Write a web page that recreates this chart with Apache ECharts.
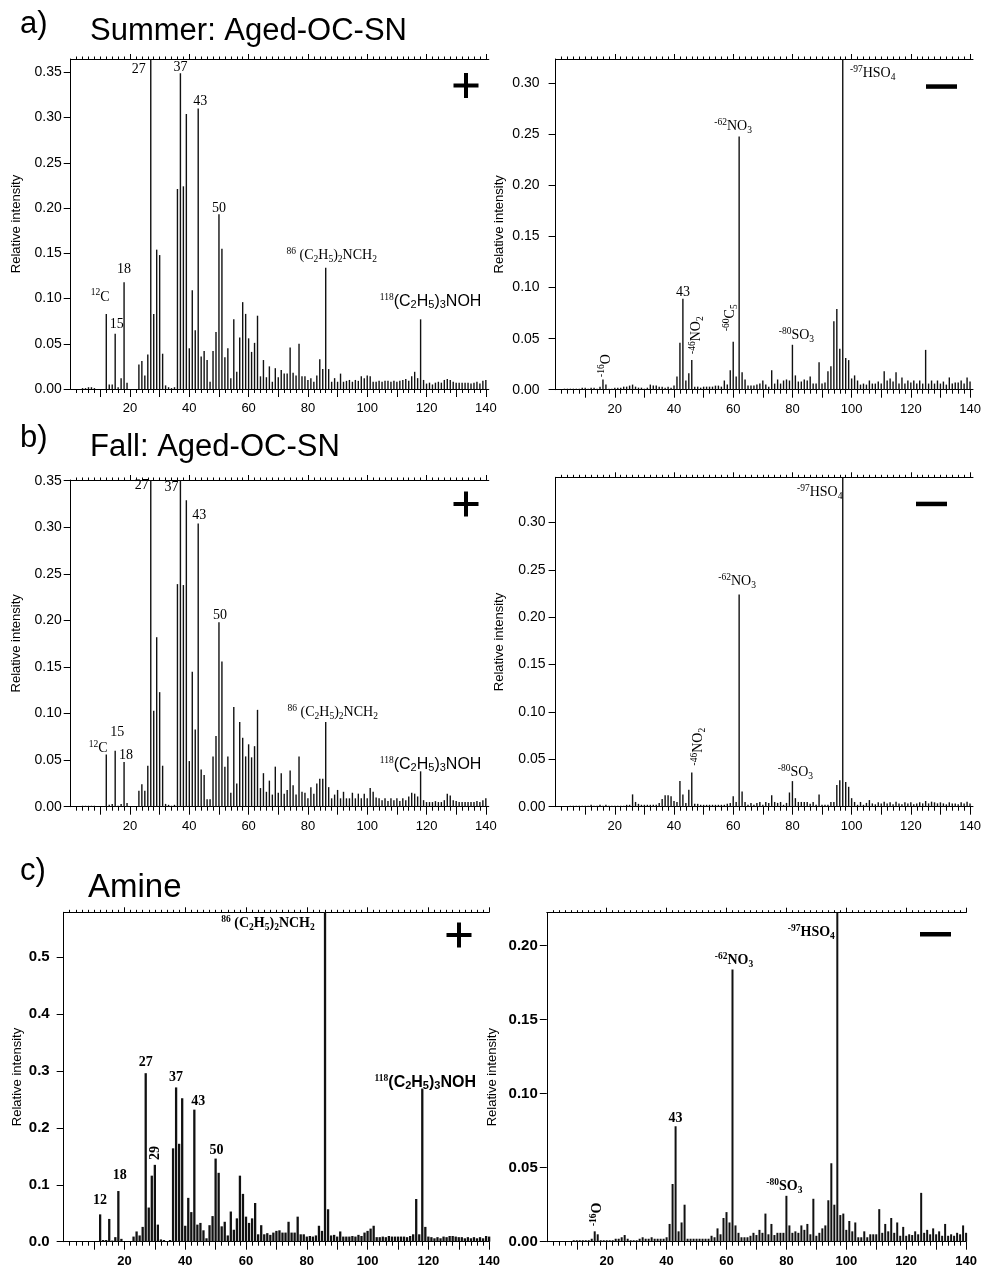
<!DOCTYPE html>
<html>
<head>
<meta charset="utf-8">
<script src="https://cdn.jsdelivr.net/npm/echarts@6/dist/echarts.min.js"></script>
<style>
  html, body { margin: 0; padding: 0; background: #fff; }
  #chart { width: 982px; height: 1270px; }
</style>
</head>
<body>
<div id="chart"></div>
<script>
// m/z 1..140
const mz = [
  1, 2, 3, 4, 5, 6, 7, 8, 9, 10, 11, 12, 13, 14, 15, 16, 17, 18, 19, 20,
  21, 22, 23, 24, 25, 26, 27, 28, 29, 30, 31, 32, 33, 34, 35, 36, 37, 38, 39, 40,
  41, 42, 43, 44, 45, 46, 47, 48, 49, 50, 51, 52, 53, 54, 55, 56, 57, 58, 59, 60,
  61, 62, 63, 64, 65, 66, 67, 68, 69, 70, 71, 72, 73, 74, 75, 76, 77, 78, 79, 80,
  81, 82, 83, 84, 85, 86, 87, 88, 89, 90, 91, 92, 93, 94, 95, 96, 97, 98, 99, 100,
  101, 102, 103, 104, 105, 106, 107, 108, 109, 110, 111, 112, 113, 114, 115, 116, 117, 118, 119, 120,
  121, 122, 123, 124, 125, 126, 127, 128, 129, 130, 131, 132, 133, 134, 135, 136, 137, 138, 139, 140
];

// a) summer, positive ions
const summerPos = [
  0, 0, 0, 0.001, 0.001, 0.002, 0.002, 0.001, 0, 0,
  0, 0.083, 0.005, 0.005, 0.061, 0.002, 0.012, 0.118, 0.007, 0,
  0, 0, 0.027, 0.031, 0.015, 0.038, 0.40, 0.083, 0.154, 0.148,
  0.039, 0.004, 0.002, 0.001, 0.002, 0.221, 0.349, 0.224, 0.304, 0.045,
  0.109, 0.065, 0.310, 0.036, 0.042, 0.032, 0.008, 0.042, 0.063, 0.193,
  0.155, 0.035, 0.045, 0.012, 0.077, 0.019, 0.057, 0.096, 0.083, 0.056,
  0.041, 0.051, 0.081, 0.014, 0.032, 0.013, 0.025, 0.008, 0.023, 0.013,
  0.021, 0.017, 0.017, 0.046, 0.018, 0.015, 0.050, 0.014, 0.014, 0.010,
  0.012, 0.008, 0.015, 0.033, 0.022, 0.134, 0.022, 0.008, 0.012, 0.008,
  0.017, 0.008, 0.009, 0.010, 0.008, 0.010, 0.009, 0.014, 0.012, 0.015,
  0.014, 0.008, 0.008, 0.009, 0.008, 0.009, 0.009, 0.008, 0.009, 0.008,
  0.009, 0.010, 0.011, 0.009, 0.014, 0.019, 0.012, 0.077, 0.010, 0.006,
  0.007, 0.005, 0.007, 0.008, 0.007, 0.010, 0.011, 0.010, 0.008, 0.007,
  0.007, 0.007, 0.007, 0.007, 0.006, 0.007, 0.008, 0.006, 0.009, 0.010
];

// a) summer, negative ions
const summerNeg = [
  0, 0, 0.001, 0.001, 0.001, 0.001, 0.001, 0.001, 0.002, 0.002,
  0.001, 0.002, 0.002, 0.001, 0.003, 0.010, 0.005, 0.001, 0.001, 0.002,
  0.002, 0.002, 0.003, 0.003, 0.004, 0.005, 0.003, 0.002, 0.002, 0.001,
  0.002, 0.005, 0.004, 0.004, 0.003, 0.003, 0.002, 0.003, 0.002, 0.004,
  0.013, 0.046, 0.089, 0.009, 0.016, 0.029, 0.003, 0.003, 0.002, 0.003,
  0.003, 0.003, 0.003, 0.004, 0.004, 0.003, 0.009, 0.005, 0.019, 0.047,
  0.013, 0.248, 0.017, 0.010, 0.004, 0.004, 0.004, 0.005, 0.006, 0.009,
  0.005, 0.003, 0.019, 0.006, 0.010, 0.006, 0.009, 0.010, 0.009, 0.044,
  0.014, 0.008, 0.008, 0.010, 0.009, 0.013, 0.006, 0.006, 0.027, 0.006,
  0.007, 0.018, 0.023, 0.067, 0.079, 0.040, 0.40, 0.031, 0.029, 0.011,
  0.014, 0.009, 0.005, 0.006, 0.005, 0.009, 0.006, 0.006, 0.008, 0.006,
  0.018, 0.009, 0.011, 0.008, 0.017, 0.006, 0.012, 0.006, 0.009, 0.007,
  0.009, 0.006, 0.009, 0.006, 0.039, 0.006, 0.009, 0.006, 0.009, 0.006,
  0.008, 0.005, 0.012, 0.006, 0.007, 0.007, 0.009, 0.006, 0.012, 0.008
];

// b) fall, positive ions
const fallPos = [
  0, 0, 0, 0.001, 0.001, 0.001, 0.001, 0.001, 0, 0,
  0, 0.056, 0.002, 0.003, 0.060, 0.001, 0.003, 0.048, 0.004, 0,
  0, 0, 0.017, 0.024, 0.017, 0.044, 0.38, 0.103, 0.182, 0.123,
  0.044, 0.003, 0.002, 0.001, 0.002, 0.239, 0.36, 0.238, 0.329, 0.049,
  0.145, 0.083, 0.304, 0.040, 0.034, 0.008, 0.008, 0.054, 0.076, 0.198,
  0.156, 0.043, 0.054, 0.015, 0.107, 0.025, 0.091, 0.074, 0.054, 0.067,
  0.053, 0.065, 0.104, 0.020, 0.036, 0.016, 0.028, 0.013, 0.043, 0.015,
  0.036, 0.014, 0.018, 0.039, 0.023, 0.013, 0.054, 0.016, 0.015, 0.009,
  0.021, 0.014, 0.025, 0.030, 0.030, 0.091, 0.021, 0.009, 0.013, 0.018,
  0.009, 0.016, 0.009, 0.009, 0.015, 0.009, 0.014, 0.009, 0.014, 0.009,
  0.020, 0.016, 0.010, 0.009, 0.007, 0.009, 0.006, 0.009, 0.007, 0.009,
  0.006, 0.009, 0.007, 0.011, 0.015, 0.014, 0.011, 0.038, 0.007, 0.005,
  0.005, 0.005, 0.006, 0.005, 0.005, 0.007, 0.014, 0.012, 0.007, 0.006,
  0.005, 0.005, 0.005, 0.005, 0.005, 0.005, 0.006, 0.005, 0.007, 0.009
];

// b) fall, negative ions
const fallNeg = [
  0, 0, 0, 0, 0.001, 0.001, 0.001, 0.001, 0.001, 0.001,
  0.001, 0.002, 0.001, 0.001, 0.002, 0.001, 0.002, 0.001, 0.001, 0.001,
  0.001, 0.001, 0.001, 0.002, 0.002, 0.013, 0.005, 0.003, 0.002, 0.002,
  0.002, 0.002, 0.002, 0.002, 0.004, 0.008, 0.012, 0.012, 0.011, 0.006,
  0.005, 0.027, 0.013, 0.004, 0.018, 0.036, 0.003, 0.003, 0.002, 0.002,
  0.002, 0.002, 0.002, 0.002, 0.002, 0.002, 0.002, 0.003, 0.004, 0.011,
  0.005, 0.224, 0.016, 0.005, 0.002, 0.004, 0.002, 0.004, 0.005, 0.002,
  0.005, 0.004, 0.012, 0.005, 0.004, 0.005, 0.002, 0.004, 0.015, 0.027,
  0.009, 0.005, 0.005, 0.005, 0.005, 0.003, 0.005, 0.002, 0.013, 0.002,
  0.002, 0.002, 0.005, 0.005, 0.023, 0.028, 0.45, 0.026, 0.021, 0.009,
  0.005, 0.002, 0.005, 0.002, 0.004, 0.007, 0.0035, 0.0025, 0.0046, 0.0035,
  0.0053, 0.0035, 0.0046, 0.0025, 0.0053, 0.0035, 0.0025, 0.0046, 0.0035, 0.0046,
  0.0025, 0.0035, 0.0046, 0.0035, 0.006, 0.0035, 0.0053, 0.0046, 0.0035, 0.0046,
  0.0035, 0.0025, 0.0046, 0.0035, 0.0035, 0.0025, 0.0046, 0.0035, 0.0053, 0.0035
];

// c) amine, positive ions
const aminePos = [
  0, 0, 0, 0, 0, 0, 0, 0, 0, 0,
  0, 0.048, 0.003, 0.003, 0.040, 0.002, 0.008, 0.089, 0.005, 0,
  0, 0, 0.009, 0.018, 0.011, 0.026, 0.296, 0.060, 0.116, 0.135,
  0.030, 0.004, 0.003, 0.001, 0.003, 0.164, 0.271, 0.172, 0.252, 0.028,
  0.077, 0.052, 0.232, 0.030, 0.033, 0.020, 0.006, 0.029, 0.045, 0.146,
  0.121, 0.027, 0.035, 0.011, 0.053, 0.021, 0.041, 0.116, 0.084, 0.044,
  0.033, 0.041, 0.068, 0.013, 0.029, 0.013, 0.015, 0.012, 0.016, 0.019,
  0.020, 0.016, 0.016, 0.035, 0.016, 0.016, 0.044, 0.013, 0.013, 0.009,
  0.010, 0.009, 0.011, 0.028, 0.019, 0.60, 0.057, 0.011, 0.012, 0.009,
  0.018, 0.009, 0.009, 0.009, 0.010, 0.009, 0.012, 0.010, 0.016, 0.019,
  0.023, 0.028, 0.008, 0.008, 0.009, 0.008, 0.010, 0.009, 0.009, 0.009,
  0.009, 0.009, 0.008, 0.010, 0.013, 0.075, 0.013, 0.269, 0.026, 0.009,
  0.008, 0.006, 0.008, 0.006, 0.009, 0.008, 0.010, 0.010, 0.009, 0.008,
  0.008, 0.006, 0.008, 0.006, 0.008, 0.006, 0.008, 0.006, 0.010, 0.009
];

// c) amine, negative ions
const amineNeg = [
  0, 0, 0, 0, 0, 0, 0, 0, 0.001, 0.001,
  0.001, 0.001, 0.001, 0.001, 0.002, 0.007, 0.005, 0.001, 0.001, 0.001,
  0.001, 0.001, 0.002, 0.002, 0.003, 0.0045, 0.002, 0.001, 0.001, 0.001,
  0.002, 0.003, 0.002, 0.002, 0.003, 0.002, 0.002, 0.002, 0.002, 0.003,
  0.012, 0.039, 0.078, 0.007, 0.013, 0.025, 0.002, 0.002, 0.002, 0.002,
  0.002, 0.002, 0.002, 0.002, 0.004, 0.003, 0.009, 0.005, 0.016, 0.020,
  0.013, 0.184, 0.011, 0.006, 0.003, 0.003, 0.003, 0.004, 0.006, 0.0045,
  0.008, 0.006, 0.019, 0.005, 0.012, 0.0045, 0.006, 0.006, 0.006, 0.031,
  0.011, 0.006, 0.007, 0.006, 0.011, 0.008, 0.012, 0.005, 0.029, 0.004,
  0.006, 0.009, 0.011, 0.028, 0.053, 0.025, 0.30, 0.018, 0.019, 0.008,
  0.014, 0.007, 0.013, 0.003, 0.003, 0.007, 0.003, 0.005, 0.005, 0.005,
  0.022, 0.006, 0.012, 0.007, 0.016, 0.006, 0.013, 0.004, 0.010, 0.004,
  0.005, 0.0045, 0.007, 0.005, 0.033, 0.006, 0.008, 0.005, 0.009, 0.005,
  0.007, 0.004, 0.012, 0.004, 0.005, 0.004, 0.006, 0.005, 0.011, 0.006
];

// tick values
const xLabelTicks = [20, 40, 60, 80, 100, 120, 140];
const xMajorTicks = [10, 20, 30, 40, 50, 60, 70, 80, 90, 100, 110, 120, 130, 140];
const xTopTicks = [20, 40, 60, 80, 100, 120, 140];
const xMinorTicks = [2, 4, 6, 8, 12, 14, 16, 18, 22, 24, 26, 28, 32, 34, 36, 38, 42, 44, 46, 48,
  52, 54, 56, 58, 62, 64, 66, 68, 72, 74, 76, 78, 82, 84, 86, 88, 92, 94, 96, 98,
  102, 104, 106, 108, 112, 114, 116, 118, 122, 124, 126, 128, 132, 134, 136, 138];
const xTopMinor = [2, 4, 6, 8, 10, 12, 14, 16, 18, 22, 24, 26, 28, 30, 32, 34, 36, 38,
  42, 44, 46, 48, 50, 52, 54, 56, 58, 62, 64, 66, 68, 70, 72, 74, 76, 78,
  82, 84, 86, 88, 90, 92, 94, 96, 98, 102, 104, 106, 108, 110, 112, 114, 116, 118,
  122, 124, 126, 128, 130, 132, 134, 136, 138];
const yTicks35 = [0, 0.05, 0.10, 0.15, 0.20, 0.25, 0.30, 0.35];
const yTicks30 = [0, 0.05, 0.10, 0.15, 0.20, 0.25, 0.30];
const yTicks05 = [0, 0.1, 0.2, 0.3, 0.4, 0.5];
const yTicks20 = [0, 0.05, 0.10, 0.15, 0.20];

// peak labels: [m/z, y (null = bar top), text, dx, dy, rotate] ; dx/dy in screen pixels
const NCH2 = '{p|86}{n| (C}{b|2}{n|H}{b|5}{n|)}{b|2}{n|NCH}{b|2}';
const NOH = '{p|118}{s|(C}{sb|2}{s|H}{sb|5}{s|)}{sb|3}{s|NOH}';
const annotSummerPos = [
  [12, null, '{p|12}{n|C}', -6, -17, 0],
  [15, null, '{n|15}', 1.5, -9, 0],
  [18, null, '{n|18}', 0, -13, 0],
  [27, 0.35, '{n|27}', -12, -3, 0],
  [37, null, '{n|37}', 0, -6, 0],
  [43, null, '{n|43}', 2, -7, 0],
  [50, null, '{n|50}', 0, -6, 0],
  [86, null, NCH2, 6, -12, 0],
  [118, null, NOH, 10, -18, 0]
];
const annotSummerNeg = [
  [16, null, '{p|-16}{n|O}', 3, -14, 90],
  [43, null, '{n|43}', 0, -7, 0],
  [46, null, '{p|-46}{n|NO}{b|2}', 5, -25, 90],
  [60, null, '{p|-60}{n|C}{b|5}', -3, -24, 90],
  [62, null, '{p|-62}{n|NO}{b|3}', -6, -10, 0],
  [97, 0.31, '{p|-97}{n|HSO}{b|4}', 30, 0, 0],
  [80, null, '{p|-80}{n|SO}{b|3}', 4, -9, 0]
];
const annotFallPos = [
  [12, null, '{p|12}{n|C}', -8, -6, 0],
  [15, null, '{n|15}', 2, -18, 0],
  [18, null, '{n|18}', 2, -7, 0],
  [27, 0.34, '{n|27}', -9, -5, 0],
  [37, 0.34, '{n|37}', -9, -3, 0],
  [43, null, '{n|43}', 1, -8.5, 0],
  [50, null, '{n|50}', 1, -7, 0],
  [86, null, NCH2, 7, -9.5, 0],
  [118, null, NOH, 10, -7, 0]
];
const annotFallNeg = [
  [46, null, '{p|-46}{n|NO}{b|2}', 7, -26, 90],
  [62, null, '{p|-62}{n|NO}{b|3}', -2, -13, 0],
  [97, 0.32, '{p|-97}{n|HSO}{b|4}', -23, -11, 0],
  [80, null, '{p|-80}{n|SO}{b|3}', 3, -9, 0]
];
const annotAminePos = [
  [12, null, '{n|12}', 0, -14, 0],
  [18, null, '{n|18}', 1.5, -16, 0],
  [27, null, '{n|27}', 0, -11, 0],
  [29, null, '{n|29}', 3.7, -22.7, 90],
  [37, null, '{n|37}', 0, -10, 0],
  [43, null, '{n|43}', 4, -8, 0],
  [50, null, '{n|50}', 1, -8.5, 0],
  [86, 0.56, NCH2, -57, 1, 0],
  [118, null, NOH, 3, -6, 0]
];
const annotAmineNeg = [
  [16, null, '{p|-16}{n|O}', 3, -17, 90],
  [43, null, '{n|43}', 0, -8, 0],
  [62, null, '{p|-62}{n|NO}{b|3}', 1.5, -8.5, 0],
  [97, 0.20, '{p|-97}{n|HSO}{b|4}', -26, -13, 0],
  [80, null, '{p|-80}{n|SO}{b|3}', -2, -9, 0]
];

const sans = "'Liberation Sans', Arial, sans-serif";
const serif = "'Liberation Serif', 'Times New Roman', serif";

const panels = [
  { values: summerPos, annots: annotSummerPos, left: 70.7, top: 59, width: 418.1, height: 330, xMax: 141,
    yMax: 0.3647, yTicks: yTicks35, dec: 2, barWidth: 1.4, bold: false, labelMargin: 9, nameGap: 48 },
  { values: summerNeg, annots: annotSummerNeg, left: 555.6, top: 59, width: 417.4, height: 330.7, xMax: 141,
    yMax: 0.3239, yTicks: yTicks30, dec: 2, barWidth: 1.4, bold: false, labelMargin: 16, nameGap: 50 },
  { values: fallPos, annots: annotFallPos, left: 70.7, top: 480, width: 418.1, height: 326.7, xMax: 141,
    yMax: 0.3508, yTicks: yTicks35, dec: 2, barWidth: 1.4, bold: false, labelMargin: 9, nameGap: 48 },
  { values: fallNeg, annots: annotFallNeg, left: 555.6, top: 477.3, width: 417.4, height: 329.4, xMax: 141,
    yMax: 0.3476, yTicks: yTicks30, dec: 2, barWidth: 1.4, bold: false, labelMargin: 10, nameGap: 50 },
  { values: aminePos, annots: annotAminePos, left: 63.65, top: 912.3, width: 425.5, height: 329.4, xMax: 140,
    yMax: 0.5786, yTicks: yTicks05, dec: 1, barWidth: 2.3, bold: true, labelMargin: 14, nameGap: 40 },
  { values: amineNeg, annots: annotAmineNeg, left: 546.8, top: 912.7, width: 419.3, height: 329, xMax: 140,
    yMax: 0.2223, yTicks: yTicks20, dec: 2, barWidth: 2, bold: true, labelMargin: 9, nameGap: 48 }
];

function richStyles(bold) {
  const w = bold ? 'bold' : 'normal';
  return {
    n: { fontFamily: serif, fontSize: 14, fontWeight: w, color: '#000', lineHeight: 18 },
    p: { fontFamily: serif, fontSize: 9.5, fontWeight: w, color: '#000', lineHeight: 10, verticalAlign: 'top' },
    b: { fontFamily: serif, fontSize: 9.5, fontWeight: w, color: '#000', lineHeight: 10, verticalAlign: 'bottom' },
    s: { fontFamily: sans, fontSize: 16, fontWeight: w, color: '#000', lineHeight: 18 },
    sb: { fontFamily: sans, fontSize: 11, fontWeight: w, color: '#000', lineHeight: 10, verticalAlign: 'bottom' }
  };
}

const black = { color: '#000', width: 1 };

function addPanel(opt, p) {
  const gi = opt.grid.length;
  opt.grid.push({ left: p.left, top: p.top, width: p.width, height: p.height, containLabel: false, outerBoundsMode: 'none' });
  const w = p.bold ? 'bold' : 'normal';
  const baseX = {
    type: 'value', gridIndex: gi, min: 0, max: p.xMax,
    splitLine: { show: false },
    axisLine: { show: true, onZero: false, lineStyle: black },
    axisLabel: { show: false }
  };
  const xi = opt.xAxis.length;
  opt.xAxis.push(Object.assign({}, baseX, {
    position: 'bottom',
    axisTick: { show: true, length: 8, customValues: xMajorTicks, lineStyle: black },
    axisLabel: { show: true, customValues: xLabelTicks, fontSize: 13, fontWeight: w, color: '#000', margin: 13, fontFamily: sans }
  }));
  opt.xAxis.push(Object.assign({}, baseX, {
    position: 'bottom',
    axisLine: { show: false, onZero: false },
    axisTick: { show: true, length: 4, customValues: xMinorTicks, lineStyle: black }
  }));
  opt.xAxis.push(Object.assign({}, baseX, {
    position: 'top',
    axisTick: { show: true, length: 5, customValues: xTopTicks, lineStyle: black }
  }));
  opt.xAxis.push(Object.assign({}, baseX, {
    position: 'top',
    axisLine: { show: false, onZero: false },
    axisTick: { show: true, length: 2.5, customValues: xTopMinor, lineStyle: black }
  }));

  const yi = opt.yAxis.length;
  opt.yAxis.push({
    type: 'value', gridIndex: gi, min: 0, max: p.yMax, position: 'left',
    splitLine: { show: false },
    axisLine: { show: true, onZero: false, lineStyle: black },
    axisTick: { show: true, length: 7, customValues: p.yTicks, lineStyle: black },
    axisLabel: {
      customValues: p.yTicks, formatter: v => v.toFixed(p.dec),
      fontSize: p.bold ? 15 : 14, fontWeight: w, color: '#000', margin: p.labelMargin, fontFamily: sans
    },
    name: 'Relative intensity', nameLocation: 'middle', nameGap: p.nameGap,
    nameTextStyle: { fontSize: 13, color: '#000', fontFamily: sans }
  });

  opt.series.push({
    type: 'bar', xAxisIndex: xi, yAxisIndex: yi,
    data: mz.map((m, i) => [m, p.values[i]]),
    barWidth: p.barWidth, itemStyle: { color: '#111' },
    clip: true, silent: true
  });

  const rich = richStyles(p.bold);
  const ann = p.annots.map(a => {
    const y = a[1] === null ? p.values[mz.indexOf(a[0])] : a[1];
    // label offsets are applied in the rotated frame, so map screen dx/dy back
    const off = a[5] === 90 ? [-a[4], a[3]] : [a[3], a[4]];
    return {
      value: [a[0], y],
      label: { formatter: () => a[2], offset: off, rotate: a[5] }
    };
  });
  opt.series.push({
    type: 'scatter', xAxisIndex: xi, yAxisIndex: yi, data: ann,
    symbolSize: 1, itemStyle: { color: 'rgba(0,0,0,0)', opacity: 1 },
    clip: false, silent: true, z: 5,
    label: { show: true, position: 'inside', color: '#000', opacity: 1, textBorderWidth: 0, rich: rich }
  });
}

function titleText(x, y, text, size) {
  return {
    type: 'text', x: x, y: y,
    style: { text: text, fontSize: size || 31, fontFamily: sans, fill: '#000',
      align: 'left', verticalAlign: 'middle', textAlign: 'left', textVerticalAlign: 'middle' }
  };
}
function plusSign(cx, cy) {
  return [
    { type: 'rect', shape: { x: cx - 12.5, y: cy - 2, width: 25, height: 4 }, style: { fill: '#000' } },
    { type: 'rect', shape: { x: cx - 2, y: cy - 12.5, width: 4, height: 25 }, style: { fill: '#000' } }
  ];
}
function minusSign(x, y) {
  return { type: 'rect', shape: { x: x, y: y, width: 31, height: 4.5 }, style: { fill: '#000' } };
}

const option = {
  animation: false,
  backgroundColor: '#fff',
  textStyle: { fontFamily: sans },
  grid: [], xAxis: [], yAxis: [], series: [],
  graphic: [
    titleText(20, 24, 'a)'), titleText(90, 31, 'Summer: Aged-OC-SN'),
    titleText(20, 438, 'b)'), titleText(90, 447, 'Fall: Aged-OC-SN'),
    titleText(20, 871, 'c)'), titleText(88, 888, 'Amine', 33),
    ...plusSign(466, 85.5), minusSign(926, 84.3),
    ...plusSign(466, 504), minusSign(916, 501.7),
    ...plusSign(459, 935), minusSign(920, 932)
  ]
};

panels.forEach(p => addPanel(option, p));

const chart = echarts.init(document.getElementById('chart'), null, { renderer: 'canvas' });
chart.setOption(option);
</script>
</body>
</html>
